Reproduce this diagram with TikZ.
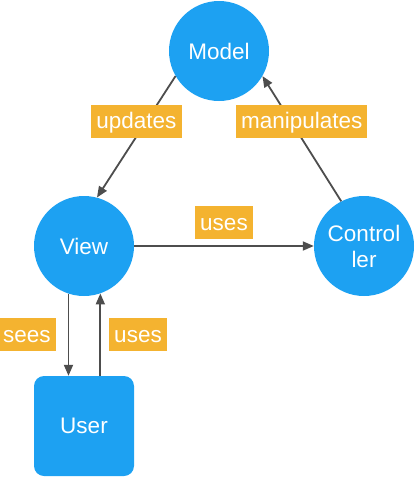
\documentclass[tikz,border=0pt]{standalone}
\usepackage{fontspec}
\setmainfont{Liberation Sans}
\usepackage{xcolor}
\usetikzlibrary{positioning, arrows.meta}

\definecolor{mvcblue}{RGB}{29,161,242}
\definecolor{mvcorange}{RGB}{244,179,48}
\definecolor{mvcgray}{RGB}{77,77,77}

\begin{document}
\begin{tikzpicture}[x=1pt, y=1pt, on grid,
    comp/.style={circle, fill=mvcblue, text=white, minimum size=100pt, inner sep=0pt, align=center, font=\fontsize{22.5}{26}\selectfont},
    actor/.style={rectangle, rounded corners=10pt, fill=mvcblue, text=white, minimum size=100pt, inner sep=0pt, font=\fontsize{22.5}{26}\selectfont},
    lbl/.style={fill=mvcorange, text=white, minimum height=33pt, inner xsep=5pt, inner ysep=0pt, text height=20pt, text depth=5pt, font=\fontsize{22.5}{26}\selectfont},
    arr/.style={-{Triangle[length=11pt, width=9pt]}, draw=mvcgray, line width=1.8pt}]
    \useasboundingbox (0,0) rectangle (415,-477);
    \node[comp] (view) at (84,-246) {View};
    \node[comp, right=280pt of view] (controller) {Control\\ler};
    \node[comp, above right=195pt and 135pt of view] (model) {Model};
    \node[actor, below=180pt of view] (user) {User};

    \draw[arr] (model.210) -- node[lbl, pos=0.37, xshift=-10pt] {updates} (view.75);
    \draw[arr] (controller.117) -- node[lbl, pos=0.64, xshift=11pt] {manipulates} (model.330);
    \draw[arr] (view.east) -- node[lbl, above=6pt] {uses} (controller.west);
    \draw[arr] (view.252) -- node[lbl, left=12pt] {sees} (view.252 |- user.north);
    \draw[arr] (view.289 |- user.north) -- node[lbl, right=8pt] {uses} (view.289);
\end{tikzpicture}
\end{document}
